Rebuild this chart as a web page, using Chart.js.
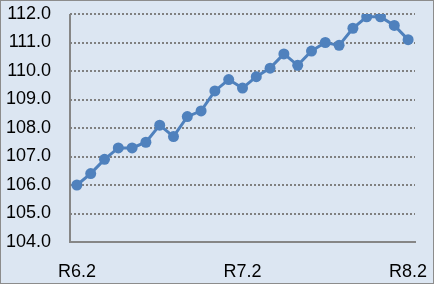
<!DOCTYPE html>
<html>
<head>
<meta charset="utf-8">
<script src="https://cdn.jsdelivr.net/npm/chart.js@4"></script>
<style>
  html, body { margin: 0; padding: 0; }
  #wrap {
    width: 434px; height: 284px; box-sizing: border-box;
    border: 1px solid #8c8c8c; background: #dce6f2;
  }
  canvas { display: block; }
</style>
</head>
<body>
<div id="wrap"><canvas id="chart1" width="432" height="282"></canvas></div>
<script>
// monthly index, R6.2 .. R8.2
const months = [
  'R6.2', 'R6.3', 'R6.4', 'R6.5', 'R6.6', 'R6.7', 'R6.8', 'R6.9', 'R6.10', 'R6.11', 'R6.12', 'R7.1',
  'R7.2', 'R7.3', 'R7.4', 'R7.5', 'R7.6', 'R7.7', 'R7.8', 'R7.9', 'R7.10', 'R7.11', 'R7.12', 'R8.1',
  'R8.2'
];
const values = [
  106.0, 106.4, 106.9, 107.3, 107.3, 107.5, 108.1, 107.7, 108.4, 108.6, 109.3, 109.7,
  109.4, 109.8, 110.1, 110.6, 110.2, 110.7, 111.0, 110.9, 111.5, 111.9, 111.9, 111.6,
  111.1
];
const shownLabels = ['R6.2', 'R7.2', 'R8.2'];
const yMin = 104;
const yMax = 112;

const blue = '#4f81bd';
const axisGray = '#868686';
const font = { family: 'Liberation Sans', size: 18 };

const ctx = document.getElementById('chart1').getContext('2d');
new Chart(ctx, {
  type: 'line',
  data: {
    labels: months,
    datasets: [{
      data: values,
      borderColor: blue,
      backgroundColor: blue,
      borderWidth: 3,
      pointRadius: 5.5,
      pointBorderWidth: 0,
      pointBackgroundColor: blue,
      tension: 0
    }]
  },
  options: {
    responsive: false,
    animation: false,
    layout: { padding: { top: 13, right: 18, left: 0, bottom: 0 } },
    plugins: {
      legend: { display: false },
      tooltip: { enabled: false }
    },
    scales: {
      x: {
        offset: true,
        // only the first (left edge) line is kept: it is the solid y axis line
        grid: {
          display: true,
          drawTicks: false,
          offset: true,
          lineWidth: 2,
          color: function(c) { return c.index === 0 ? axisGray : 'rgba(0,0,0,0)'; }
        },
        border: { display: true, color: axisGray, width: 2 },
        ticks: {
          autoSkip: false,
          maxRotation: 0,
          padding: 19,
          color: '#000',
          font: font,
          callback: function(value, index) {
            const lab = this.getLabelForValue(value);
            return shownLabels.includes(lab) ? lab : '';
          }
        },
        afterFit: function(scale) {
          scale.height = 41;
          scale.paddingLeft = 0;
          scale.paddingRight = 0;
        }
      },
      y: {
        min: yMin,
        max: yMax,
        grid: {
          drawTicks: false,
          lineWidth: 2,
          color: function(c) { return c.index === 0 ? 'rgba(0,0,0,0)' : '#808080'; }
        },
        border: { display: false, dash: [2, 2] },
        ticks: {
          stepSize: 1,
          padding: 19,
          color: '#000',
          font: font,
          callback: function(v) { return v.toFixed(1); }
        },
        afterFit: function(scale) {
          scale.width = 69;
          scale.paddingTop = 0;
          scale.paddingBottom = 0;
        }
      }
    }
  }
});
</script>
</body>
</html>
